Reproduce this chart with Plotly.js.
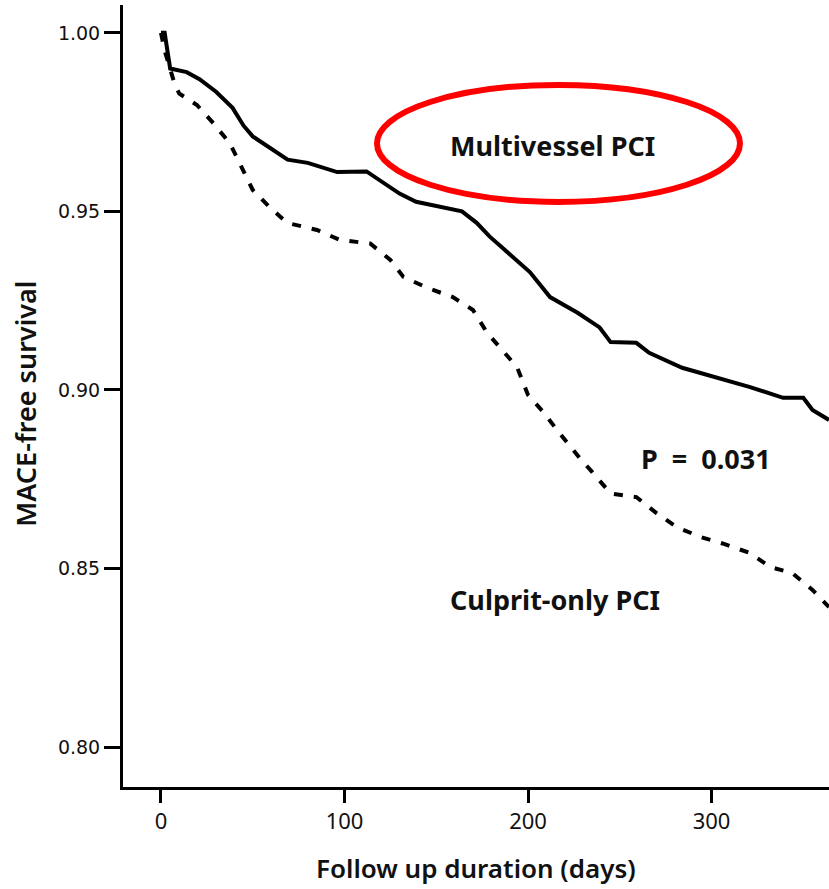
<!DOCTYPE html>
<html><head><meta charset="utf-8">
<script src="https://cdn.plot.ly/plotly-3.0.1.min.js"></script>
<style>html,body{margin:0;padding:0;background:#fff}#chart{width:829px;height:889px}</style>
</head><body><div id="chart"></div>
<script>
const multiDays = [0,2,5,14,21,30,39,45,50,59,69,80,96,112,121,130,139,154,164,172,179,190,201,212,227,239,245,259,266,284,303,321,339,350,355,364];
const multiSurv = [1.000,1.000,0.990,0.989,0.987,0.9835,0.979,0.974,0.971,0.968,0.9645,0.9636,0.961,0.9612,0.958,0.955,0.9527,0.951,0.950,0.9468,0.943,0.938,0.933,0.926,0.9216,0.9175,0.9134,0.9132,0.9104,0.9062,0.9034,0.9008,0.8978,0.8978,0.8944,0.8916];
const culpDays = [0,2,7.6,10,19.6,28,37.6,44,50,59,68.6,85,97.5,114,125,132,145,159,170,177.7,186,194,200,208,217,228,235,245,259,270,281,294,306,321,332,344,355,364];
const culpSurv = [1.000,0.995,0.9854,0.983,0.9798,0.975,0.969,0.9625,0.956,0.9513,0.9468,0.9448,0.942,0.941,0.9364,0.9317,0.9286,0.926,0.9224,0.916,0.9112,0.9064,0.8986,0.894,0.888,0.881,0.877,0.871,0.870,0.8655,0.8616,0.8588,0.857,0.8543,0.8504,0.8487,0.844,0.8392];
const xTicks = [0,100,200,300];
const yTicks = [0.80,0.85,0.90,0.95,1.00];
const yTickText = ["0.80","0.85","0.90","0.95","1.00"];

const traces = [
  {x: multiDays, y: multiSurv, mode:'lines', line:{color:'#000', width:4}, name:'Multivessel PCI', hoverinfo:'skip'},
  {x: culpDays, y: culpSurv, mode:'lines', line:{color:'#000', width:4, dash:'9px,11px'}, name:'Culprit-only PCI', hoverinfo:'skip'}
];
const txtFont = {family:'"Noto Sans", "Open Sans", sans-serif', size:27, color:'#111', weight:700};
const layout = {
  width:829, height:889,
  margin:{l:123, r:0, t:5, b:102},
  paper_bgcolor:'#fff', plot_bgcolor:'#fff',
  showlegend:false,
  xaxis:{range:[-20.7,364], tickvals:xTicks, ticktext:xTicks.map(String), ticks:'outside', ticklen:13, tickwidth:3, tickcolor:'#000',
    showline:true, linecolor:'#000', linewidth:3, showgrid:false, zeroline:false, mirror:false,
    tickfont:{family:'"Noto Sans", sans-serif', size:22, color:'#111'}, fixedrange:true},
  yaxis:{range:[0.7888,1.0078], tickvals:yTicks, ticktext:yTickText, ticks:'outside', ticklen:16, tickwidth:3, tickcolor:'#000',
    showline:true, linecolor:'#000', linewidth:3, showgrid:false, zeroline:false,
    tickfont:{family:'"DejaVu Sans", sans-serif', size:19, color:'#111'}, fixedrange:true},
  shapes:[{type:'circle', xref:'x', yref:'y', x0:117.7, x1:315.5, y0:0.95266, y1:0.98543, line:{color:'#f00', width:6}}],
  annotations:[
    {text:'Multivessel PCI', xref:'x', yref:'y', x:213.5, y:0.9684, showarrow:false, font:txtFont},
    {text:'P \u00a0= \u00a00.031', xref:'x', yref:'y', x:297, y:0.8808, showarrow:false, font:txtFont},
    {text:'Culprit-only PCI', xref:'x', yref:'y', x:214.7, y:0.8412, showarrow:false, font:txtFont},
    {text:'Follow up duration (days)', xref:'paper', yref:'paper', x:0.5, y:-0.1036, yanchor:'middle', showarrow:false,
      font:{family:'"Noto Sans", sans-serif', size:26, color:'#111', weight:600}},
    {text:'MACE-free survival', xref:'paper', yref:'paper', x:-0.1374, y:0.49, xanchor:'center', yanchor:'middle', textangle:-90, showarrow:false,
      font:{family:'"Noto Sans", sans-serif', size:27, color:'#111', weight:600}}
  ]
};
Plotly.newPlot('chart', traces, layout, {displayModeBar:false, staticPlot:true});
</script></body></html>
